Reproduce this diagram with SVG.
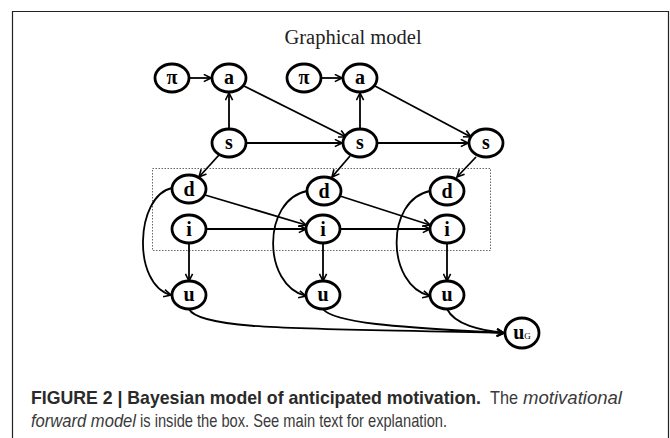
<svg xmlns="http://www.w3.org/2000/svg" width="670" height="438" viewBox="0 0 670 438">
<defs>
<style>
.n ellipse{fill:#fff;stroke:#000;stroke-width:2.8}
.n text{font-family:"Liberation Serif","DejaVu Serif",serif;font-weight:bold;font-size:20px;text-anchor:middle;fill:#000}
.e path{fill:none;stroke:#000;stroke-width:1.8;marker-end:url(#ar)}
.cap{font-family:"Liberation Sans Narrow","Liberation Sans",Arial,sans-serif;font-size:18.5px}
</style>
<marker id="ar" viewBox="0 0 10 10" refX="9" refY="5" markerWidth="9" markerHeight="9" markerUnits="userSpaceOnUse" orient="auto">
<path d="M1,1 L9,5 L1,9" fill="none" stroke="#000" stroke-width="1.8"/>
</marker>
</defs>
<rect width="670" height="438" fill="#fff"/>
<path d="M12.5,438 V11.5 H668.5 V438" fill="none" stroke="#222" stroke-width="1.2"/>
<text x="353" y="44" font-family="Liberation Serif,serif" font-size="20.5" text-anchor="middle" fill="#222">Graphical model</text>
<rect x="152.5" y="168.5" width="338" height="82" fill="none" stroke="#666" stroke-width="1" stroke-dasharray="1.5,1.5"/>
<g class="e" id="edges">
<path d="M189,78 H211"/>
<path d="M321,78 H342"/>
<path d="M229,129 V93"/>
<path d="M360,129 V93"/>
<path d="M244,86 L346,137"/>
<path d="M375,86 L471,137"/>
<path d="M246,143 H342"/>
<path d="M377,143 H468"/>
<path d="M219,155 L199,177"/>
<path d="M350,156 L332,177"/>
<path d="M476,157 L457,177"/>
<path d="M205,195 L306,225"/>
<path d="M340,196 L430,225"/>
<path d="M206,229 H306"/>
<path d="M340,229 H430"/>
<path d="M189,243 V281"/>
<path d="M323,243 V281"/>
<path d="M447,243 V281"/>
<path d="M172,188 C135,196 132,285 171,295"/>
<path d="M307,191 C262,200 262,285 306,296"/>
<path d="M430,191 C385,200 386,285 430,296"/>
<path d="M189,309 C200,332 330,328 504,333"/>
<path d="M323,309 C335,325 420,328 504,333"/>
<path d="M447,309 C455,325 480,330 504,333"/>
</g>
<g class="n" id="pi1"><ellipse cx="172" cy="78" rx="17" ry="14"/><text x="172" y="84">π</text></g>
<g class="n" id="a1"><ellipse cx="229" cy="78" rx="17" ry="14"/><text x="229" y="84">a</text></g>
<g class="n" id="pi2"><ellipse cx="304" cy="78" rx="17" ry="14"/><text x="304" y="84">π</text></g>
<g class="n" id="a2"><ellipse cx="360" cy="78" rx="17" ry="14"/><text x="360" y="84">a</text></g>
<g class="n" id="s1"><ellipse cx="229" cy="143" rx="17" ry="14"/><text x="229" y="149">s</text></g>
<g class="n" id="s2"><ellipse cx="360" cy="143" rx="17" ry="14"/><text x="360" y="149">s</text></g>
<g class="n" id="s3"><ellipse cx="486" cy="143" rx="17" ry="14"/><text x="486" y="149">s</text></g>
<g class="n" id="d1"><ellipse cx="189" cy="189" rx="17" ry="14"/><text x="189" y="196">d</text></g>
<g class="n" id="d2"><ellipse cx="324" cy="191" rx="17" ry="14"/><text x="324" y="198">d</text></g>
<g class="n" id="d3"><ellipse cx="447" cy="191" rx="17" ry="14"/><text x="447" y="198">d</text></g>
<g class="n" id="i1"><ellipse cx="189" cy="229" rx="17" ry="14"/><text x="189" y="236">i</text></g>
<g class="n" id="i2"><ellipse cx="323" cy="229" rx="17" ry="14"/><text x="323" y="236">i</text></g>
<g class="n" id="i3"><ellipse cx="447" cy="229" rx="17" ry="14"/><text x="447" y="236">i</text></g>
<g class="n" id="u1"><ellipse cx="189" cy="295" rx="17" ry="14"/><text x="189" y="301">u</text></g>
<g class="n" id="u2"><ellipse cx="323" cy="295" rx="17" ry="14"/><text x="323" y="301">u</text></g>
<g class="n" id="u3"><ellipse cx="447" cy="295" rx="17" ry="14"/><text x="447" y="301">u</text></g>
<g class="n" id="uG"><ellipse cx="522" cy="333" rx="17" ry="15"/><text x="522" y="339">u<tspan font-size="9" font-weight="normal">G</tspan></text></g>
<text class="cap" x="31" y="404" font-weight="bold" fill="#2a2a2a" textLength="450" lengthAdjust="spacingAndGlyphs">FIGURE 2 | Bayesian model of anticipated motivation.</text>
<text class="cap" x="490" y="404" fill="#3a3a3a" textLength="28" lengthAdjust="spacingAndGlyphs">The</text>
<text class="cap" x="523" y="404" fill="#3a3a3a" font-style="italic" textLength="99" lengthAdjust="spacingAndGlyphs">motivational</text>
<text class="cap" x="31" y="427" fill="#3a3a3a" font-style="italic" textLength="105" lengthAdjust="spacingAndGlyphs">forward model</text>
<text class="cap" x="140" y="427" fill="#3a3a3a" textLength="307" lengthAdjust="spacingAndGlyphs">is inside the box. See main text for explanation.</text>
</svg>
